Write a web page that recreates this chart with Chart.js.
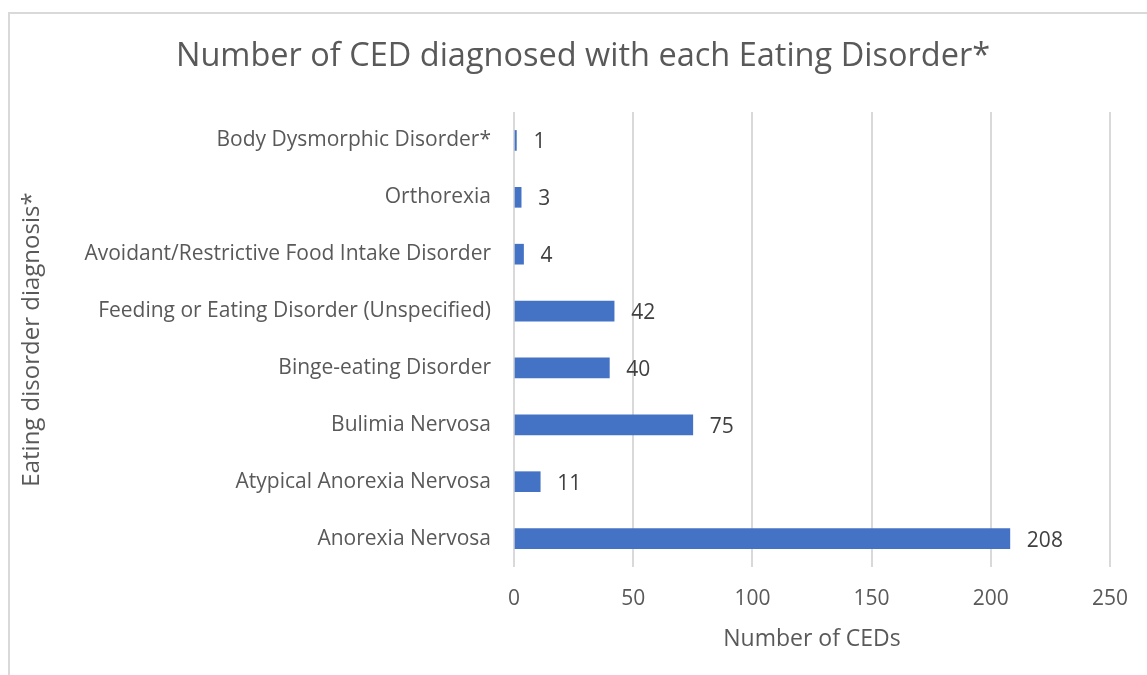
<!DOCTYPE html>
<html lang="en">
<head>
    <meta charset="UTF-8">
    <title>Number of CED diagnosed with each Eating Disorder*</title>
    <script src="https://cdn.jsdelivr.net/npm/chart.js"></script>
    <style>
        body {
            margin: 0;
            padding: 0;
            background: #fff;
        }

        .frame {
            position: absolute;
            left: 8px;
            top: 12px;
            width: 1200px;
            height: 700px;
            border-left: 2px solid #d9d9d9;
            border-top: 2px solid #d9d9d9;
        }

        .wrap {
            position: absolute;
            left: 0;
            top: 0;
            width: 1147px;
            height: 675px;
        }
    </style>
</head>
<body>
    <div class="frame"></div>
    <div class="wrap">
        <canvas id="edChart" width="1147" height="675"></canvas>
    </div>

    <script>
        // Diagnoses, top to bottom as shown in the chart
        const diagnoses = [
            'Body Dysmorphic Disorder*',
            'Orthorexia',
            'Avoidant/Restrictive Food Intake Disorder',
            'Feeding or Eating Disorder (Unspecified)',
            'Binge-eating Disorder',
            'Bulimia Nervosa',
            'Atypical Anorexia Nervosa',
            'Anorexia Nervosa'
        ];
        const cedCounts = [1, 3, 4, 42, 40, 75, 11, 208];
        const xTicks = [0, 50, 100, 150, 200, 250];
        const chartTitle = 'Number of CED diagnosed with each Eating Disorder*';

        const fontFamily = '"Open Sans", "Noto Sans", sans-serif';

        // Title is centred on the outer chart frame, not on the plot,
        // so it is drawn here instead of with the title plugin
        const frameTitle = {
            id: 'frameTitle',
            afterDraw(chart) {
                const ctx = chart.ctx;
                ctx.save();
                ctx.font = '32.5px ' + fontFamily;
                ctx.fillStyle = '#595959';
                ctx.textAlign = 'center';
                ctx.textBaseline = 'middle';
                ctx.fillText(chartTitle, 583, 57);
                ctx.restore();
            }
        };

        // Draw the value next to the end of each bar
        const valueLabels = {
            id: 'valueLabels',
            afterDatasetsDraw(chart) {
                const ctx = chart.ctx;
                const meta = chart.getDatasetMeta(0);
                ctx.save();
                ctx.font = '21px ' + fontFamily;
                ctx.fillStyle = '#404040';
                ctx.textAlign = 'left';
                ctx.textBaseline = 'middle';
                meta.data.forEach((bar, i) => {
                    ctx.fillText(String(cedCounts[i]), bar.x + 17, bar.y + 2);
                });
                ctx.restore();
            }
        };

        const ctx = document.getElementById('edChart').getContext('2d');
        const myChart = new Chart(ctx, {
            type: 'bar',
            data: {
                labels: diagnoses,
                datasets: [{
                    label: 'Number of CEDs',
                    data: cedCounts,
                    backgroundColor: '#4472C4',
                    borderWidth: 0,
                    barThickness: 20
                }]
            },
            options: {
                indexAxis: 'y',
                responsive: false,
                animation: false,
                layout: {
                    padding: { left: 10, right: 34, top: 112, bottom: 22 }
                },
                plugins: {
                    legend: { display: false },
                    tooltip: { enabled: false },
                    title: { display: false }
                },
                scales: {
                    x: {
                        min: 0,
                        max: 250,
                        afterBuildTicks(scale) {
                            scale.ticks = xTicks.map(v => ({ value: v }));
                        },
                        afterFit(scale) {
                            scale.height = 86;
                        },
                        grid: {
                            color: '#d9d9d9',
                            lineWidth: 2,
                            drawTicks: false
                        },
                        border: { display: false },
                        ticks: {
                            color: '#595959',
                            padding: 19,
                            font: { family: fontFamily, size: 21 }
                        },
                        title: {
                            display: true,
                            text: 'Number of CEDs',
                            color: '#595959',
                            font: { family: fontFamily, size: 23 },
                            padding: { top: 4, bottom: 0 }
                        }
                    },
                    y: {
                        afterFit(scale) {
                            scale.width = 504;
                        },
                        grid: { display: false, drawTicks: false },
                        border: { display: false },
                        ticks: {
                            color: '#595959',
                            padding: 23,
                            font: { family: fontFamily, size: 21 }
                        },
                        title: {
                            display: true,
                            text: 'Eating disorder diagnosis*',
                            color: '#595959',
                            font: { family: fontFamily, size: 24 },
                            padding: { top: 8, bottom: 0 }
                        }
                    }
                }
            },
            plugins: [valueLabels, frameTitle]
        });
    </script>
</body>
</html>
